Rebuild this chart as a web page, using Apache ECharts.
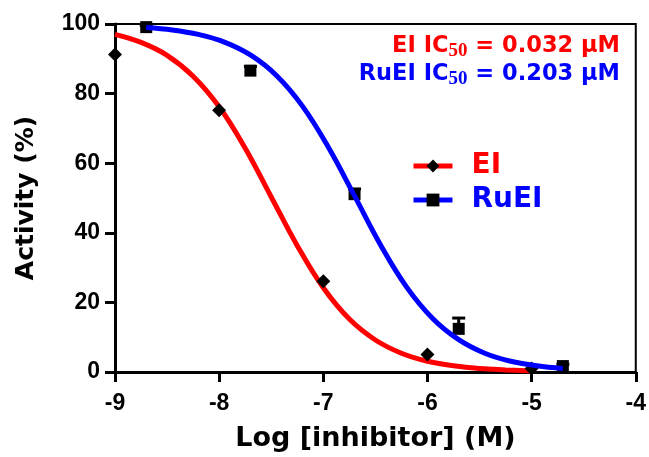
<!DOCTYPE html>
<html>
<head>
<meta charset="utf-8">
<script src="https://cdn.jsdelivr.net/npm/echarts@6/dist/echarts.min.js"></script>
<style>
html,body{margin:0;padding:0;background:#fff;}
#chart{width:649px;height:457px;}
</style>
</head>
<body>
<div id="chart"></div>
<script>
var eiX = [-9, -8, -7, -6, -5];
var eiY = [91.2, 75.2, 26.1, 5.0, 1.0];
var ruX = [-8.7, -7.7, -6.7, -5.7, -4.7];
var ruY = [99.1, 86.6, 51.1, 12.4, 1.7];
var ruErr = [0.5, 1.2, 1.5, 3.1, 0.5];

// Fitted curves
var eiCurveX = [-9, -8.75, -8.5, -8.25, -8, -7.75, -7.5, -7.25, -7, -6.75, -6.5, -6.25, -6, -5.75, -5.5, -5.25, -5];
var eiCurveY = [97.0, 94.7, 91.0, 85.0, 76.2, 64.3, 50.3, 36.3, 24.2, 15.2, 9.2, 5.4, 3.1, 1.8, 1.0, 0.6, 0.3];
var ruCurveX = [-8.7, -8.45, -8.2, -7.95, -7.7, -7.45, -7.2, -6.95, -6.7, -6.45, -6.2, -5.95, -5.7, -5.45, -5.2, -4.95, -4.7];
var ruCurveY = [99.0, 98.3, 97.0, 94.8, 91.1, 85.2, 76.4, 64.5, 50.6, 36.5, 24.4, 15.4, 9.3, 5.4, 3.1, 1.8, 1.0];

var xTicks = [-9, -8, -7, -6, -5, -4];
var yTicks = [0, 20, 40, 60, 80, 100];
var seriesNames = ['EI', 'RuEI'];
var ic50Texts = ['0.032', '0.203'];

function zip(a, b) { return a.map(function (v, i) { return [v, b[i]]; }); }

var RED = '#ff0000', BLUE = '#0000ff';
var chart = echarts.init(document.getElementById('chart'), null, {renderer: 'canvas'});

var tickFont = {fontFamily: 'Liberation Sans', fontWeight: 'bold', fontSize: 23, color: '#000'};

function annot(name, val, color, y) {
  return {
    type: 'text', right: 649 - 620, top: y - 14,
    style: {
      text: '{m|' + name + ' IC}{s|50}{m| = ' + val + ' \u00B5M}',
      rich: {
        m: {fontFamily: 'DejaVu Sans', fontWeight: 'bold', fontSize: 22.5, fill: color, color: color},
        s: {fontFamily: 'Liberation Serif', fontWeight: 'bold', fontSize: 19, fill: color, color: color, padding: [9, 0, 0, 0]}
      }
    }
  };
}

chart.setOption({
  animation: false,
  backgroundColor: '#fff',
  grid: {left: 115, right: 12, top: 24, bottom: 84, show: true, borderColor: '#000', borderWidth: 2},
  legend: {
    orient: 'vertical', left: 411, top: 152, padding: 0, itemWidth: 39, itemHeight: 16, itemGap: 6,
    selectedMode: false,
    lineStyle: {width: 5},
    data: [
      {name: seriesNames[0], textStyle: {color: RED}},
      {name: seriesNames[1], textStyle: {color: BLUE}}
    ],
    textStyle: {fontFamily: 'DejaVu Sans', fontWeight: 'bold', fontSize: 28, padding: [0, 0, 0, 14]}
  },
  xAxis: {
    type: 'value', min: -9, max: -4, interval: 1,
    name: 'Log [inhibitor] (M)', nameLocation: 'middle', nameGap: 53,
    nameTextStyle: {fontFamily: 'DejaVu Sans', fontWeight: 'bold', fontSize: 27, color: '#000'},
    axisLine: {show: true, lineStyle: {color: '#000', width: 3}},
    axisTick: {show: true, length: 10, lineStyle: {color: '#000', width: 3}},
    axisLabel: Object.assign({margin: 20, formatter: function (v) { return xTicks.indexOf(v) >= 0 ? String(v) : ''; }}, tickFont),
    splitLine: {show: false}
  },
  yAxis: {
    type: 'value', min: 0, max: 100, interval: 20,
    name: 'Activity (%)', nameLocation: 'middle', nameGap: 76,
    nameTextStyle: {fontFamily: 'DejaVu Sans', fontWeight: 'bold', fontSize: 25, color: '#000'},
    axisLine: {show: true, lineStyle: {color: '#000', width: 3}},
    axisTick: {show: true, length: 10, lineStyle: {color: '#000', width: 3}},
    axisLabel: Object.assign({margin: 15, formatter: function (v) { return yTicks.indexOf(v) >= 0 ? String(v) : ''; }}, tickFont),
    splitLine: {show: false}
  },
  graphic: [
    annot(seriesNames[0], ic50Texts[0], RED, 49),
    annot(seriesNames[1], ic50Texts[1], BLUE, 77)
  ],
  series: [
    {
      name: seriesNames[0], type: 'line', data: zip(eiCurveX, eiCurveY), smooth: 0.4,
      showSymbol: false, symbol: 'diamond', itemStyle: {color: '#000', opacity: 1},
      lineStyle: {color: RED, width: 5}, z: 2
    },
    {
      name: 'EI points', type: 'scatter', data: zip(eiX, eiY), symbol: 'diamond', symbolSize: 14,
      itemStyle: {color: '#000', opacity: 1}, z: 3
    },
    {
      name: 'RuEI points', type: 'scatter', data: zip(ruX, ruY), symbol: 'rect', symbolSize: 12,
      itemStyle: {color: '#000', opacity: 1}, z: 3
    },
    {
      name: 'RuEI err', type: 'custom', z: 3,
      data: ruX.map(function (x, i) { return [x, ruY[i], ruY[i] + ruErr[i]]; }),
      renderItem: function (params, api) {
        var p0 = api.coord([api.value(0), api.value(1)]);
        var p1 = api.coord([api.value(0), api.value(2)]);
        var hw = 6.5;
        return {type: 'group', children: [
          {type: 'line', shape: {x1: p0[0], y1: p0[1], x2: p1[0], y2: p1[1]}, style: {stroke: '#000', lineWidth: 3}},
          {type: 'line', shape: {x1: p1[0] - hw, y1: p1[1], x2: p1[0] + hw, y2: p1[1]}, style: {stroke: '#000', lineWidth: 3}}
        ]};
      }
    },
    {
      name: seriesNames[1], type: 'line', data: zip(ruCurveX, ruCurveY), smooth: 0.4,
      showSymbol: false, symbol: 'rect', itemStyle: {color: '#000', opacity: 1},
      lineStyle: {color: BLUE, width: 5}, z: 4
    }
  ]
});
</script>
</body>
</html>
